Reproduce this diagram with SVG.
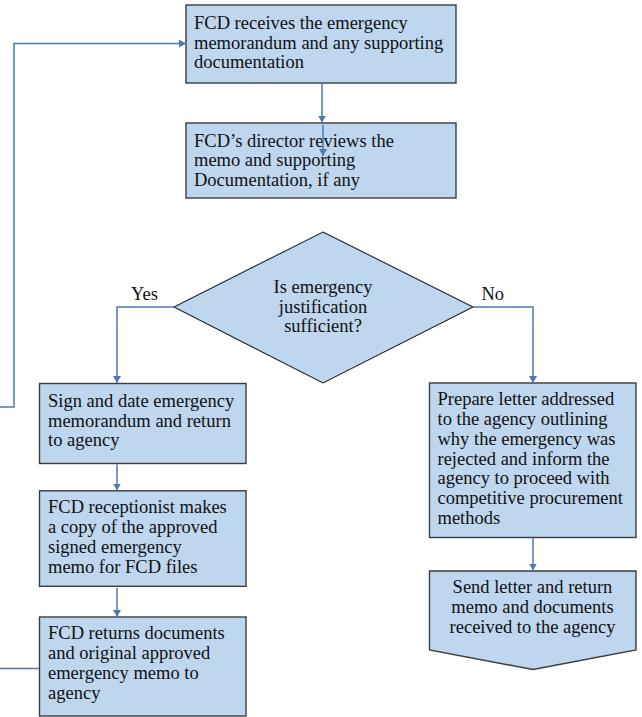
<svg xmlns="http://www.w3.org/2000/svg" width="642" height="717" viewBox="0 0 642 717">
<style>
.box{fill:#bed6ee;stroke:#3c3c3c;stroke-width:1.4}
.dia{fill:#bed6ee;stroke:#222;stroke-width:1.1}
.t{font-family:"Liberation Serif","Times New Roman","DejaVu Serif",serif;font-size:18.5px;fill:#111}
.c{text-anchor:middle}
.ln{fill:none;stroke:#4a7ab0;stroke-width:1.5}
</style>
<defs>
<marker id="ah" markerUnits="userSpaceOnUse" markerWidth="8" markerHeight="8" refX="7" refY="4" orient="auto">
<path d="M0,0 L7,4 L0,8 z" fill="#4a7ab0"/>
</marker>
</defs>
<rect width="642" height="717" fill="#fff"/>

<g id="n1">
<rect class="box" x="186" y="5" width="270" height="78"/>
<text class="t" x="194" y="28.5">FCD receives the emergency</text>
<text class="t" x="194" y="48.5">memorandum and any supporting</text>
<text class="t" x="194" y="68">documentation</text>
</g>

<g id="n2">
<rect class="box" x="186" y="123" width="270" height="75"/>
<text class="t" x="194" y="146.5">FCD’s director reviews the</text>
<text class="t" x="194" y="166.3">memo and supporting</text>
<text class="t" x="194" y="185.8">Documentation, if any</text>
</g>

<g id="n3">
<polygon class="dia" points="323,232 473,307 323,383 174,307"/>
<text class="t c" x="323" y="293">Is emergency</text>
<text class="t c" x="323" y="312.5">justification</text>
<text class="t c" x="323" y="332">sufficient?</text>
</g>

<g id="labels">
<text class="t" x="131" y="300">Yes</text>
<text class="t" x="481.5" y="300">No</text>
</g>

<g id="n4">
<rect class="box" x="39.5" y="383.5" width="206.5" height="80"/>
<text class="t" x="48" y="406.7">Sign and date emergency</text>
<text class="t" x="48" y="426.5">memorandum and return</text>
<text class="t" x="48" y="446">to agency</text>
</g>

<g id="n5">
<rect class="box" x="39.5" y="490.8" width="206.5" height="95.5"/>
<text class="t" x="48" y="513.3">FCD receptionist makes</text>
<text class="t" x="48" y="533.2">a copy of the approved</text>
<text class="t" x="48" y="553">signed emergency</text>
<text class="t" x="48" y="572.8">memo for FCD files</text>
</g>

<g id="n6">
<rect class="box" x="39.5" y="617" width="206.5" height="99"/>
<text class="t" x="48" y="639.3">FCD returns documents</text>
<text class="t" x="48" y="659.2">and original approved</text>
<text class="t" x="48" y="679">emergency memo to</text>
<text class="t" x="48" y="698.5">agency</text>
</g>

<g id="n7">
<rect class="box" x="429.5" y="383" width="206.5" height="154.5"/>
<text class="t" x="437.5" y="405">Prepare letter addressed</text>
<text class="t" x="437.5" y="425">to the agency outlining</text>
<text class="t" x="437.5" y="445">why the emergency was</text>
<text class="t" x="437.5" y="464.5">rejected and inform the</text>
<text class="t" x="437.5" y="484.2">agency to proceed with</text>
<text class="t" x="437.5" y="504">competitive procurement</text>
<text class="t" x="437.5" y="524">methods</text>
</g>

<g id="n8">
<polygon class="box" points="429.5,571 636,571 636,650 533,669.5 429.5,650"/>
<text class="t c" x="532.5" y="593.3">Send letter and return</text>
<text class="t c" x="532.5" y="613.2">memo and documents</text>
<text class="t c" x="532.5" y="633">received to the agency</text>
</g>

<g id="connectors">
<path class="ln" d="M0,407 H14 V43.5 H186" marker-end="url(#ah)"/>
<path class="ln" d="M322,83.7 V122.5" marker-end="url(#ah)"/>
<path class="ln" d="M323,125 V156" marker-end="url(#ah)"/>
<path class="ln" d="M174,307 H117 V383" marker-end="url(#ah)"/>
<path class="ln" d="M473,307 H533 V383" marker-end="url(#ah)"/>
<path class="ln" d="M117,464.2 V490.5" marker-end="url(#ah)"/>
<path class="ln" d="M117,588 V617" marker-end="url(#ah)"/>
<path class="ln" d="M533,538.2 V570.5" marker-end="url(#ah)"/>
<path class="ln" d="M0,668.5 H38.8"/>
</g>
</svg>
